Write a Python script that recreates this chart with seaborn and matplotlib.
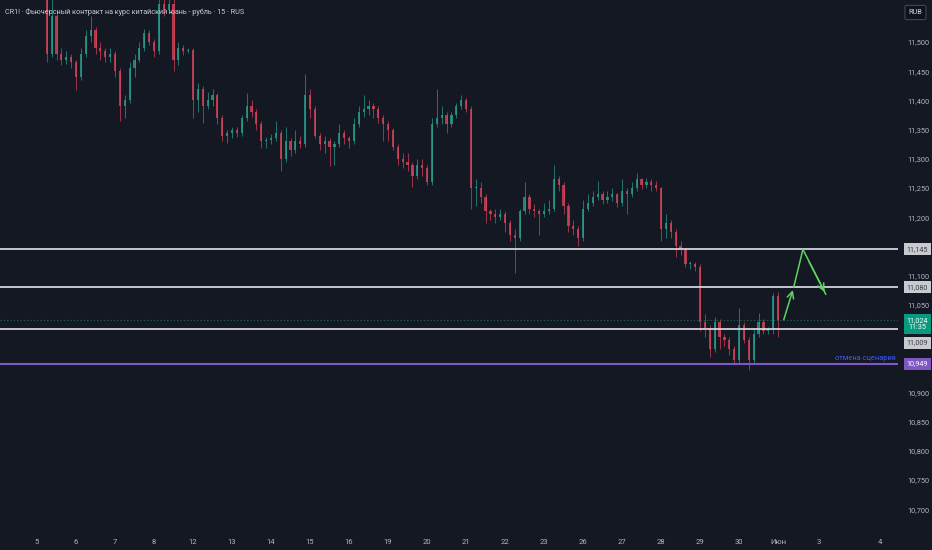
import numpy as np
import pandas as pd
import seaborn as sns
import matplotlib.pyplot as plt
import matplotlib.transforms as mtransforms

# свечи (агрегировано, 8 свечей на торговый день), цены в рублях за юань
opens = [11.515, 11.600, 11.605, 11.615, 11.610, 11.600, 11.608, 11.612, 11.600, 11.595,
         11.590, 11.480, 11.545, 11.480, 11.470, 11.475, 11.465, 11.440, 11.480, 11.510,
         11.520, 11.490, 11.485, 11.475, 11.480, 11.450, 11.390, 11.400, 11.455, 11.470,
         11.490, 11.515, 11.500, 11.485, 11.565, 11.555, 11.565, 11.470, 11.490, 11.485,
         11.487, 11.400, 11.420, 11.390, 11.400, 11.410, 11.370, 11.340, 11.345, 11.350,
         11.345, 11.370, 11.390, 11.380, 11.360, 11.330, 11.332, 11.335, 11.345, 11.300,
         11.330, 11.315, 11.330, 11.325, 11.410, 11.385, 11.340, 11.325, 11.330, 11.320,
         11.325, 11.345, 11.335, 11.330, 11.360, 11.380, 11.385, 11.390, 11.385, 11.370,
         11.360, 11.350, 11.320, 11.300, 11.295, 11.290, 11.270, 11.290, 11.285, 11.260,
         11.360, 11.370, 11.375, 11.360, 11.375, 11.390, 11.400, 11.385, 11.250, 11.250,
         11.235, 11.210, 11.205, 11.200, 11.205, 11.190, 11.170, 11.165, 11.210, 11.235,
         11.215, 11.210, 11.205, 11.210, 11.215, 11.265, 11.255, 11.220, 11.185, 11.180,
         11.165, 11.215, 11.225, 11.235, 11.240, 11.230, 11.235, 11.240, 11.225, 11.245,
         11.240, 11.250, 11.265, 11.255, 11.260, 11.255, 11.250, 11.180, 11.190, 11.175,
         11.150, 11.145, 11.120, 11.120, 11.115, 11.020, 11.010, 10.975, 11.020, 10.995,
         10.990, 10.975, 10.955, 11.015, 10.990, 10.955, 11.000, 11.020, 11.005, 11.008,
         11.065]
highs = [11.540, 11.615, 11.620, 11.625, 11.620, 11.615, 11.620, 11.618, 11.610, 11.600,
         11.595, 11.575, 11.555, 11.490, 11.485, 11.480, 11.470, 11.490, 11.520, 11.545,
         11.525, 11.500, 11.490, 11.490, 11.485, 11.455, 11.410, 11.465, 11.480, 11.500,
         11.522, 11.520, 11.505, 11.580, 11.575, 11.575, 11.575, 11.500, 11.495, 11.490,
         11.490, 11.430, 11.425, 11.415, 11.420, 11.412, 11.375, 11.350, 11.355, 11.355,
         11.375, 11.412, 11.400, 11.385, 11.365, 11.338, 11.342, 11.365, 11.350, 11.355,
         11.335, 11.350, 11.340, 11.445, 11.420, 11.390, 11.345, 11.340, 11.335, 11.330,
         11.360, 11.350, 11.340, 11.370, 11.390, 11.410, 11.400, 11.395, 11.390, 11.375,
         11.365, 11.352, 11.325, 11.310, 11.310, 11.295, 11.300, 11.300, 11.290, 11.370,
         11.420, 11.390, 11.380, 11.380, 11.395, 11.410, 11.405, 11.390, 11.265, 11.260,
         11.240, 11.215, 11.215, 11.215, 11.210, 11.195, 11.180, 11.215, 11.260, 11.240,
         11.222, 11.215, 11.225, 11.230, 11.290, 11.270, 11.260, 11.225, 11.195, 11.185,
         11.230, 11.240, 11.245, 11.262, 11.245, 11.245, 11.250, 11.242, 11.265, 11.250,
         11.260, 11.276, 11.268, 11.268, 11.265, 11.262, 11.252, 11.205, 11.195, 11.180,
         11.160, 11.148, 11.125, 11.124, 11.120, 11.035, 11.015, 11.030, 11.025, 11.000,
         10.995, 10.980, 11.045, 11.020, 10.995, 11.010, 11.036, 11.025, 11.012, 11.070,
         11.072]
lows = [11.510, 11.590, 11.595, 11.600, 11.595, 11.590, 11.598, 11.595, 11.588, 11.582,
        11.465, 11.475, 11.470, 11.460, 11.462, 11.455, 11.418, 11.435, 11.475, 11.500,
        11.480, 11.470, 11.465, 11.465, 11.440, 11.365, 11.370, 11.395, 11.440, 11.465,
        11.485, 11.495, 11.475, 11.480, 11.545, 11.550, 11.450, 11.460, 11.478, 11.482,
        11.370, 11.380, 11.362, 11.385, 11.390, 11.360, 11.330, 11.328, 11.335, 11.338,
        11.340, 11.365, 11.372, 11.350, 11.318, 11.318, 11.325, 11.330, 11.280, 11.295,
        11.305, 11.310, 11.318, 11.320, 11.370, 11.335, 11.315, 11.310, 11.288, 11.290,
        11.320, 11.325, 11.318, 11.325, 11.355, 11.372, 11.375, 11.370, 11.362, 11.330,
        11.330, 11.315, 11.290, 11.285, 11.280, 11.252, 11.265, 11.270, 11.255, 11.255,
        11.355, 11.360, 11.345, 11.355, 11.370, 11.385, 11.380, 11.215, 11.220, 11.225,
        11.190, 11.195, 11.190, 11.195, 11.175, 11.160, 11.104, 11.160, 11.205, 11.205,
        11.200, 11.170, 11.200, 11.205, 11.210, 11.245, 11.205, 11.175, 11.170, 11.150,
        11.160, 11.210, 11.220, 11.230, 11.222, 11.225, 11.228, 11.218, 11.220, 11.205,
        11.235, 11.245, 11.248, 11.250, 11.245, 11.245, 11.160, 11.165, 11.165, 11.132,
        11.135, 11.115, 11.112, 11.108, 11.005, 10.995, 10.960, 10.970, 10.975, 10.980,
        10.965, 10.948, 10.950, 10.985, 10.938, 10.950, 10.995, 11.000, 11.000, 11.000,
        10.995]
closes = [11.535, 11.605, 11.615, 11.610, 11.600, 11.608, 11.612, 11.600, 11.595, 11.590,
          11.480, 11.545, 11.480, 11.470, 11.475, 11.465, 11.440, 11.480, 11.510, 11.520,
          11.490, 11.485, 11.475, 11.480, 11.450, 11.390, 11.400, 11.455, 11.470, 11.490,
          11.515, 11.500, 11.485, 11.565, 11.555, 11.565, 11.470, 11.490, 11.485, 11.487,
          11.400, 11.420, 11.390, 11.400, 11.410, 11.370, 11.340, 11.345, 11.350, 11.345,
          11.370, 11.390, 11.380, 11.360, 11.330, 11.332, 11.335, 11.345, 11.300, 11.330,
          11.315, 11.330, 11.325, 11.410, 11.385, 11.340, 11.325, 11.330, 11.320, 11.325,
          11.345, 11.335, 11.330, 11.360, 11.380, 11.385, 11.390, 11.385, 11.370, 11.360,
          11.350, 11.320, 11.300, 11.295, 11.290, 11.270, 11.290, 11.285, 11.260, 11.360,
          11.370, 11.375, 11.360, 11.375, 11.390, 11.400, 11.385, 11.250, 11.250, 11.235,
          11.210, 11.205, 11.200, 11.205, 11.190, 11.170, 11.165, 11.210, 11.235, 11.215,
          11.210, 11.205, 11.210, 11.215, 11.265, 11.255, 11.220, 11.185, 11.180, 11.165,
          11.215, 11.225, 11.235, 11.240, 11.230, 11.235, 11.240, 11.225, 11.245, 11.240,
          11.250, 11.265, 11.255, 11.260, 11.255, 11.250, 11.180, 11.190, 11.175, 11.150,
          11.145, 11.120, 11.120, 11.115, 11.020, 11.010, 10.975, 11.020, 10.995, 10.990,
          10.975, 10.955, 11.015, 10.990, 10.955, 11.000, 11.020, 11.005, 11.008, 11.065,
          11.024]

# подписи оси времени
day_labels = ['5', '6', '7', '8', '12', '13', '14', '15', '16', '19', '20', '21', '22',
              '23', '26', '27', '28', '29', '30', 'Июн', '3', '4']
day_pos = [8, 16, 24, 32, 40, 48, 56, 64, 72, 80, 88, 96, 104, 112, 120, 128, 136, 144,
           152, 160, 168.4, 180.9]

# уровни
levels_white = [11.145, 11.080, 11.009]
level_cancel = 10.949
last_price = 11.024
price_ticks = [11.50, 11.45, 11.40, 11.35, 11.30, 11.25, 11.20, 11.10, 11.05,
               10.90, 10.85, 10.80, 10.75, 10.70]

# сценарий (зелёная стрелка)
scenario_x = [161.0, 163.2, 165.1, 169.8]
scenario_y = [11.020, 11.080, 11.145, 11.068]

bg = '#141823'
up_col = '#26a08e'
down_col = '#d8435a'
txt_col = '#b2b5be'

df = pd.DataFrame({'open': opens, 'high': highs, 'low': lows, 'close': closes})
df['bar'] = np.arange(len(df))
df['up'] = df['close'] >= df['open']
df['color'] = np.where(df['up'], up_col, down_col)

sns.set_theme(style='dark', rc={'axes.facecolor': bg, 'figure.facecolor': bg})
plt.rcParams['font.family'] = ['Roboto', 'DejaVu Sans']

fig = plt.figure(figsize=(9.32, 5.5), dpi=100)
ax = fig.add_axes([0, 22 / 550, 898 / 932, 528 / 550])
ax.set_facecolor(bg)

# свечи
ax.vlines(df['bar'], df['low'], df['high'], colors=df['color'], lw=0.6, alpha=0.8)
body = (df['close'] - df['open']).abs().clip(lower=0.0015)
ax.bar(df['bar'], body, bottom=df[['open', 'close']].min(axis=1), width=0.45,
       color=df['color'], alpha=0.8, linewidth=0)

# уровни
for lv in levels_white:
    ax.axhline(lv, color='#d1d4dc', lw=1.3)
ax.axhline(level_cancel, color='#7e57c2', lw=1.5)
ax.axhline(last_price, color='#1e6b60', lw=0.8, ls=(0, (1, 2)))

# сценарий
ax.plot(scenario_x[1:], scenario_y[1:], color='#5fd35f', lw=1.1)
ax.annotate('', xy=(scenario_x[1], scenario_y[1]), xytext=(scenario_x[0], scenario_y[0]),
            arrowprops=dict(arrowstyle='->', color='#5fd35f', lw=1.1, mutation_scale=12))
ax.annotate('', xy=(scenario_x[3], scenario_y[3]), xytext=(scenario_x[2] + 1.0, scenario_y[2] - 0.017),
            arrowprops=dict(arrowstyle='->', color='#5fd35f', lw=1.1, mutation_scale=12))

ax.set_xlim(0.41, 184.6)
ax.set_ylim(10.668, 11.572)
for s in ax.spines.values():
    s.set_visible(False)
ax.grid(False)

ax.set_xticks(day_pos)
ax.set_xticklabels(day_labels, color=txt_col, fontsize=5.5)
ax.tick_params(axis='x', length=0, pad=8)

ax.yaxis.tick_right()
ax.set_yticks(price_ticks)
ax.set_yticklabels([f'{p:.3f}'.replace('.', ',') for p in price_ticks], color=txt_col, fontsize=5.3)
ax.tick_params(axis='y', length=0, pad=7)

# плашки цены справа
tr = mtransforms.blended_transform_factory(ax.transAxes, ax.transData)
def price_box(y, text, fc, tc, dy=0):
    ax.annotate(text, xy=(1.0215, y), xycoords=tr, xytext=(0, dy), textcoords='offset points',
                ha='center', va='center', fontsize=5.2, color=tc, annotation_clip=False,
                linespacing=1.1,
                bbox=dict(boxstyle='square,pad=0.35', fc=fc, ec='none'))

price_box(11.145, '11,145', '#c8cad0', '#3a3e48')
price_box(11.080, '11,080', '#c8cad0', '#3a3e48')
price_box(11.009, '11,009', '#c8cad0', '#3a3e48', dy=-10)
price_box(last_price, '11,024\n11:35', '#089981', 'white', dy=-3)
price_box(level_cancel, '10,949', '#7e57c2', 'white')

ax.text(0.998, level_cancel + 0.004, 'отмена сценария', transform=tr, ha='right', va='bottom',
        fontsize=5.3, color='#3d5afe')

fig.text(5 / 932, 1 - 12 / 550, 'CR1! · Фьючерсный контракт на курс китайский юань - рубль · 15 · RUS',
         ha='left', va='center', fontsize=5.2, color='#c9cbd1')
fig.text(915.5 / 932, 1 - 12.5 / 550, 'RUB', ha='center', va='center', fontsize=5.2, color='#d1d4dc',
         bbox=dict(boxstyle='round,pad=0.5,rounding_size=0.2', fc='#0f1219', ec='#434651', lw=0.8))

fig.savefig('out.png', dpi=100, facecolor=bg)
